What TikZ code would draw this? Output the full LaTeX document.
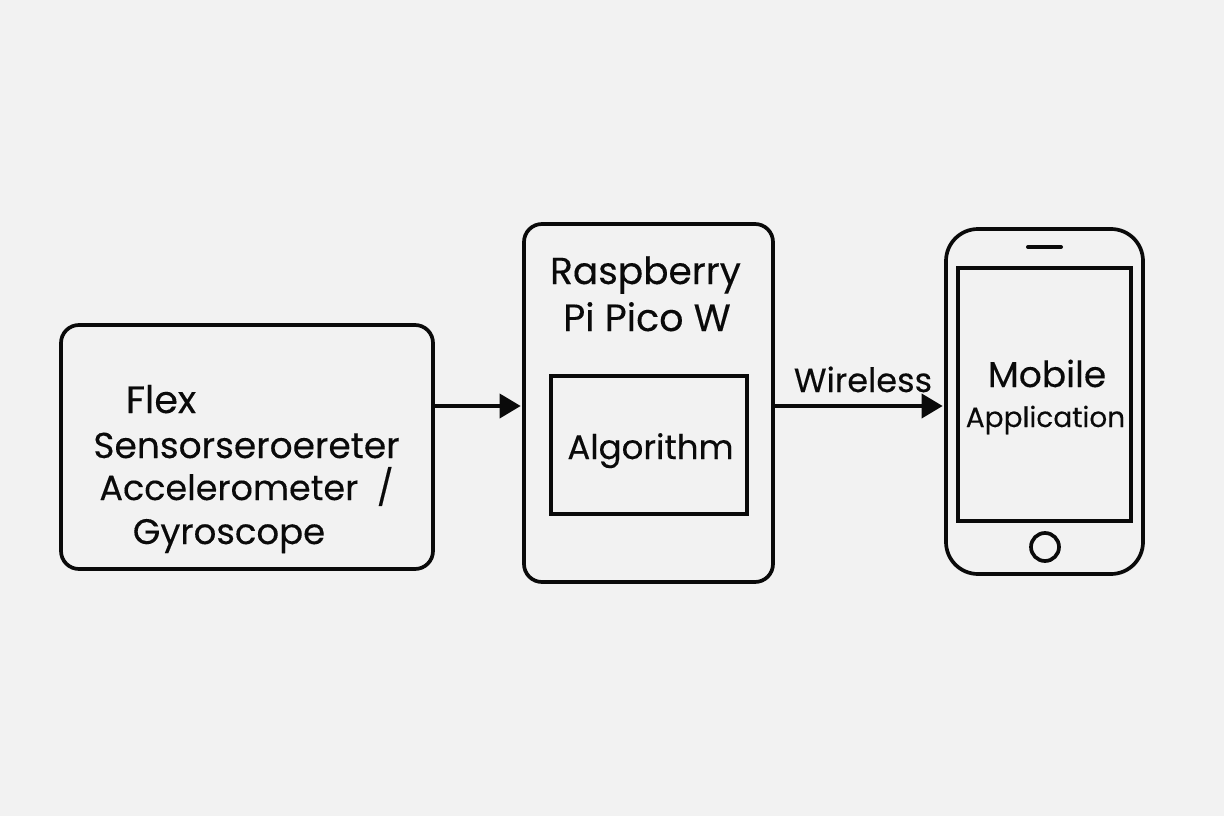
\documentclass[tikz,border=0pt]{standalone}
\usepackage{fontspec}
\usetikzlibrary{arrows.meta}
\setmainfont[FakeBold=0.25]{Poppins}
\definecolor{bgc}{HTML}{F2F2F2}
\definecolor{ink}{HTML}{0A0A0A}
\tikzset{
  x=1pt,y=-1pt,
  box/.style={draw=ink,line width=3.7pt,fill=none,inner sep=0pt,rectangle,rounded corners=#1},
  box/.default=18pt,
  lab/.style={text=ink,inner sep=0pt,anchor=base,font=\fontsize{#1}{#1}\selectfont},
  conn/.style={draw=ink,line width=3.7pt,-{Triangle[length=21pt,width=24pt]},shorten >=1.5pt}
}
\begin{document}
\begin{tikzpicture}
\fill[bgc] (0,0) rectangle (1224,816);
\useasboundingbox (0,0) rectangle (1224,816);
\node[box,minimum width=372pt,minimum height=244pt] (sensor) at (247,447) {};
\node[box,minimum width=249pt,minimum height=358pt] (pico) at (648.5,403) {};
\node[box=0pt,minimum width=196pt,minimum height=138pt] (algo) at (649,445) {};
\node[box=32pt,minimum width=197pt,minimum height=345pt] (phone) at (1044.5,401.5) {};
\node[box=0pt,minimum width=173pt,minimum height=253pt] (screen) at (1044.5,394.5) {};
\node[draw=ink,line width=3.7pt,circle,inner sep=0pt,minimum size=28pt] (homebtn) at (1045,547) {};
\draw[line width=4pt,draw=ink,line cap=round] (1028,247) -- (1061,247);
\coordinate (rail) at (0,406);
\draw[conn] (sensor.east |- rail) -- (pico.west |- rail);
\draw[conn] (pico.east |- rail) -- (phone.west |- rail);
\node[lab=38] (t1) at (161,413) {Flex};
\node[lab=36] (t2) at (246.5,458) {Sensorseroereter};
\node[lab=35] (t3) at (246.5,500) {Accelerometer\ \ /};
\node[lab=35.5] (t4) at (229,544) {Gyroscope};
\node[lab=37.5] (t5) at (645.5,284) {Raspberry};
\node[lab=38] (t6) at (647,331) {Pi Pico W};
\node[lab=34] (t7) at (650.5,459) {Algorithm};
\node[lab=33.5] (t8) at (863,392) {Wireless};
\node[lab=36] (t9) at (1047,387) {Mobile};
\node[lab=28] (t10) at (1045.5,427) {Application};
\end{tikzpicture}
\end{document}
